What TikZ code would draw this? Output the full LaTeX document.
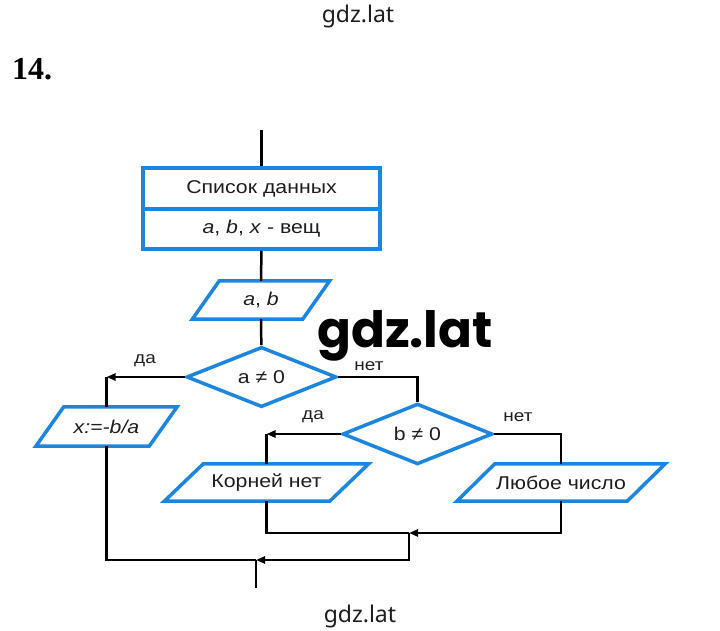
\documentclass[tikz,border=0pt]{standalone}
\usepackage{fontspec}
\setmainfont{Liberation Sans}[FakeStretch=1.15]
\newfontfamily\serifb{Liberation Serif}
\newfontfamily\wmfont{Noto Sans}
\newfontfamily\bigwm{Poppins}
\usetikzlibrary{shapes.geometric,arrows.meta}
\definecolor{fblue}{RGB}{28,134,222}
\definecolor{ftext}{RGB}{30,30,30}
\newcommand\drawio[2]{%
  \draw[fblue, line width=3.5pt, line join=miter]
    ([xshift=#2/2]#1.north west) -- ([xshift=#2/2]#1.north east) --
    ([xshift=-#2/2]#1.south east) -- ([xshift=-#2/2]#1.south west) -- cycle;}
\begin{document}
\begin{tikzpicture}[x=1pt,y=-1pt,
  nodefont/.style={font=\fontsize{18.5}{22}\selectfont, text=ftext},
  blk/.style={draw=fblue, line width=3.5pt, rectangle, minimum width=237pt, inner sep=0pt, nodefont},
  dia/.style={draw=fblue, line width=3.5pt, diamond, minimum width=150pt, minimum height=56pt, inner sep=0pt, nodefont},
  io/.style={rectangle, inner sep=0pt, nodefont},
  lbl/.style={font=\fontsize{16.5}{19}\selectfont, text=ftext},
  flow/.style={line width=2.5pt, draw=black},
  arr/.style={flow, -{Triangle[length=9pt,width=7pt]}},
]
\useasboundingbox (0,0) rectangle (720,631);
\fill[white] (0,0) rectangle (720,631);

% headings / watermarks
\node[font=\wmfont\fontsize{23}{26}\selectfont, text=ftext] (wtop) at (358,17) {gdz.lat};
\node[font=\serifb\bfseries\fontsize{32}{36}\selectfont, anchor=base west, inner sep=0pt] (num) at (12,80) {14.};
\node[font=\wmfont\fontsize{23}{26}\selectfont, text=ftext] (wbot) at (360,617) {gdz.lat};

% blocks
\coordinate (start) at (261.5,130);
\node[blk, minimum height=41pt] (decl1) at (261.5,188.5) {Список данных};
\node[blk, minimum height=40pt] (decl2) at (261.5,229) {\textit{a}, \textit{b}, \textit{x} - вещ};
\node[io, minimum width=110pt, minimum height=38pt] (ab) at (261,300) {\textit{a}, \textit{b}};
\drawio{ab}{27}
\node[dia] (adia) at (261.5,377) {a ≠ 0};
\node[io, minimum width=113pt, minimum height=39pt] (xb) at (106.5,426.5) {\textit{x:=-b/a}};
\drawio{xb}{28}
\node[dia] (bdia) at (417.5,434) {b ≠ 0};
\node[io, minimum width=165pt, minimum height=37pt] (kor) at (266.5,482.5) {Корней нет};
\drawio{kor}{39}
\node[io, minimum width=170pt, minimum height=37pt] (lub) at (561,482.5) {Любое число};
\drawio{lub}{38}

% big watermark
\node[font=\bigwm\bfseries\fontsize{50}{54}\selectfont, anchor=base, inner sep=0pt] (wmid) at (405,347) {gdz.lat};

% labels
\node[lbl] (l1) at (145,361) {да};
\node[lbl] (l2) at (369,366) {нет};
\node[lbl] (l3) at (313,417) {да};
\node[lbl] (l4) at (518,417) {нет};

% connectors
\coordinate (c1) at (xb |- adia.west);
\coordinate (c2) at (kor |- bdia.west);
\coordinate (c3) at (lub |- bdia.east);
\coordinate (c4) at (bdia |- adia.east);
\coordinate (j1) at (409,533);
\coordinate (j2) at (256,560);
\coordinate (fin) at (256,588);

\draw[flow] (start) -- (decl1);
\draw[flow] (decl2) -- (ab);
\draw[flow] (ab) -- (adia);
\draw[arr] (adia.west) -- (c1);
\draw[flow] (c1) -- (xb);
\draw[flow] (adia.east) -- (c4) -- (bdia.north);
\draw[arr] (bdia.west) -- (c2);
\draw[flow] (c2) -- (kor);
\draw[flow] (bdia.east) -- (c3) -- (lub);
\draw[flow] (kor) |- (j1);
\draw[arr] (lub) |- (j1);
\draw[arr] (j1) |- (j2);
\draw[flow] (xb) |- (j2);
\draw[flow] (j2) -- (fin);
\end{tikzpicture}
\end{document}
